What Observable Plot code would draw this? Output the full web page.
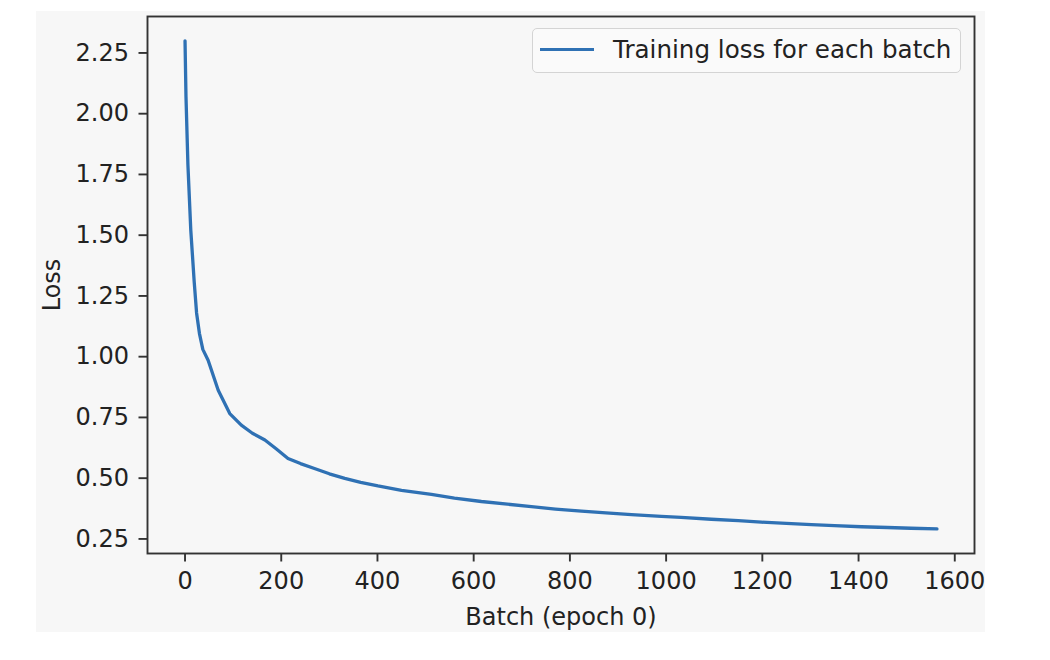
<!DOCTYPE html>
<html>
<head>
<meta charset="utf-8">
<script src="https://cdn.jsdelivr.net/npm/d3@7"></script>
<script src="https://cdn.jsdelivr.net/npm/@observablehq/plot@0.6"></script>
<style>
  html, body { margin: 0; padding: 0; background: #ffffff; }
  #wrap { position: relative; width: 1050px; height: 660px; overflow: hidden; font-family: "DejaVu Sans", sans-serif; }
  #bg { position: absolute; left: 36px; top: 11px; width: 949px; height: 621px; background: #f7f7f7; }
  #chart { position: absolute; left: 0; top: 0; }
  #legend { position: absolute; left: 532px; top: 28px; width: 429px; height: 45px; box-sizing: border-box;
            border: 1.5px solid #d4d4d4; border-radius: 5px; background: rgba(250,250,250,0.8); }
  #legend .swatch { position: absolute; left: 7px; top: 18.5px; width: 54px; height: 3.3px; }
  #legend .label { position: absolute; left: 80px; top: 0; font-size: 24.6px; line-height: 41px; color: #222; white-space: nowrap; }
</style>
</head>
<body>
<div id="wrap">
  <div id="bg"></div>
  <div id="chart"></div>
  <div id="legend"><div class="swatch"></div><div class="label"></div></div>
</div>
<script>
// Data
const batches = [0, 2, 6, 12, 19, 24, 30, 37, 48, 69, 93, 117, 140, 166, 190, 214, 240, 269, 300, 332, 365, 401, 450, 512, 560, 616, 670, 720, 770, 824, 875, 928, 990, 1031, 1094, 1150, 1198, 1250, 1302, 1350, 1406, 1460, 1509, 1563];
const losses  = [2.30, 2.07, 1.79, 1.52, 1.31, 1.18, 1.095, 1.03, 0.985, 0.862, 0.766, 0.718, 0.685, 0.657, 0.62, 0.581, 0.560, 0.540, 0.518, 0.499, 0.483, 0.468, 0.450, 0.433, 0.418, 0.404, 0.393, 0.383, 0.373, 0.364, 0.357, 0.350, 0.343, 0.339, 0.331, 0.325, 0.319, 0.314, 0.309, 0.305, 0.300, 0.297, 0.294, 0.291];
const xTicks = [0, 200, 400, 600, 800, 1000, 1200, 1400, 1600];
const yTicks = [0.25, 0.50, 0.75, 1.00, 1.25, 1.50, 1.75, 2.00, 2.25];
const seriesName = "Training loss for each batch";
const xLabel = "Batch (epoch 0)";
const yLabel = "Loss";
const lineColor = "#2f71b4";

const data = batches.map((b, i) => ({batch: b, loss: losses[i]}));

const chart = Plot.plot({
  width: 1050,
  height: 660,
  marginLeft: 147,
  marginRight: 76,
  marginTop: 16,
  marginBottom: 107,
  style: {background: "transparent", fontFamily: "DejaVu Sans, sans-serif", fontSize: "24px", color: "#222"},
  x: {domain: [-78, 1641]},
  y: {domain: [0.19, 2.40]},
  marks: [
    Plot.axisX({ticks: xTicks, tickFormat: d => String(d), tickSize: 8.5, tickPadding: 10, stroke: "#333", strokeWidth: 1.9, fill: "#222", fontSize: 24, label: null}),
    Plot.axisY({ticks: yTicks, tickFormat: d3.format(".2f"), tickSize: 8.5, tickPadding: 10, stroke: "#333", strokeWidth: 1.9, fill: "#222", fontSize: 24, label: null}),
    Plot.line(data, {x: "batch", y: "loss", stroke: lineColor, strokeWidth: 3.3}),
    Plot.frame({stroke: "#333", strokeWidth: 1.9}),
    Plot.text([xLabel], {text: d => d, frameAnchor: "bottom", lineAnchor: "middle", textAnchor: "middle", dy: 64, fontSize: 24, fill: "#222"}),
    Plot.text([yLabel], {text: d => d, frameAnchor: "left", textAnchor: "middle", lineAnchor: "middle", dx: -95, rotate: -90, fontSize: 24, fill: "#222"})
  ]
});
document.getElementById("chart").appendChild(chart);
document.querySelector("#legend .swatch").style.background = lineColor;
document.querySelector("#legend .label").textContent = seriesName;
</script>
</body>
</html>
